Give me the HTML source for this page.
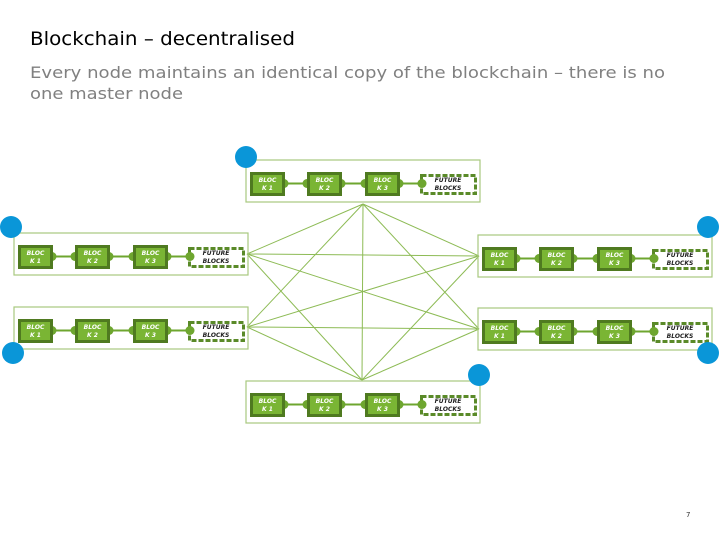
<!DOCTYPE html>
<html><head><meta charset="utf-8"><style>
html,body{margin:0;padding:0;background:#fff;}
svg{display:block;font-family:"DejaVu Sans","Liberation Sans",sans-serif;}
.b{fill:#7ab534;stroke:#4f7a20;stroke-width:3;}
.bt{fill:#fff;font-size:6px;font-style:italic;font-weight:bold;text-anchor:middle;}
.ft{fill:#222;font-size:6px;font-style:italic;font-weight:bold;text-anchor:middle;}
.fr{fill:none;stroke:#a8c97e;stroke-width:1.2;}
.c{fill:#6ea62f;}
.l{stroke:#6ea62f;stroke-width:2;}
.fb{fill:#fff;stroke:#5a8a28;stroke-width:3;stroke-dasharray:5,2;}
.m{stroke:#8dbb55;stroke-width:1;}
.dot{fill:#0a96d8;}
</style></head><body>
<svg width="720" height="540" viewBox="0 0 720 540">
<defs>
<g id="grp">
<rect class="fr" x="0" y="0" width="234" height="42"/>
<line class="l" x1="38" y1="23.5" x2="180" y2="23.5"/>
<circle class="c" cx="38" cy="23.5" r="4.5"/><circle class="c" cx="61" cy="23.5" r="4.5"/>
<circle class="c" cx="95" cy="23.5" r="4.5"/><circle class="c" cx="119" cy="23.5" r="4.5"/>
<circle class="c" cx="153" cy="23.5" r="4.5"/><circle class="c" cx="176" cy="23.5" r="4.5"/>
<rect class="b" x="5.5" y="13.5" width="32" height="21"/>
<rect class="b" x="62.5" y="13.5" width="32" height="21"/>
<rect class="b" x="120.5" y="13.5" width="32" height="21"/>
<rect class="fb" x="175.5" y="15.5" width="54" height="18"/>
<circle class="c" cx="176" cy="23.5" r="4.5"/>
</g>
</defs>
<text x="30" y="45" font-size="19" fill="#000" textLength="265" lengthAdjust="spacingAndGlyphs">Blockchain – decentralised</text>
<text x="30" y="78" font-size="16" fill="#808080" textLength="635" lengthAdjust="spacingAndGlyphs">Every node maintains an identical copy of the blockchain – there is no</text>
<text x="30" y="99" font-size="16" fill="#808080" textLength="153" lengthAdjust="spacingAndGlyphs">one master node</text>

<!-- mesh -->
<g class="m">
<line x1="363" y1="204" x2="247" y2="254"/><line x1="363" y1="204" x2="247" y2="327"/>
<line x1="363" y1="204" x2="479" y2="256"/><line x1="363" y1="204" x2="479" y2="329"/>
<line x1="363" y1="204" x2="362" y2="380"/>
<line x1="247" y1="254" x2="479" y2="256"/><line x1="247" y1="254" x2="479" y2="329"/>
<line x1="247" y1="254" x2="362" y2="380"/>
<line x1="247" y1="327" x2="479" y2="256"/><line x1="247" y1="327" x2="479" y2="329"/>
<line x1="247" y1="327" x2="362" y2="380"/>
<line x1="479" y1="256" x2="362" y2="380"/><line x1="479" y1="329" x2="362" y2="380"/>
</g>

<use href="#grp" x="246" y="160"/>
<use href="#grp" x="14" y="233"/>
<use href="#grp" x="14" y="307"/>
<use href="#grp" x="478" y="235"/>
<use href="#grp" x="478" y="308"/>
<use href="#grp" x="246" y="381"/>

<g id="labels">
<!-- top -->
<text class="bt" x="267.5" y="182">BLOC</text><text class="bt" x="267.5" y="190">K 1</text>
<text class="bt" x="324.5" y="182">BLOC</text><text class="bt" x="324.5" y="190">K 2</text>
<text class="bt" x="382.5" y="182">BLOC</text><text class="bt" x="382.5" y="190">K 3</text>
<text class="ft" x="448" y="182">FUTURE</text><text class="ft" x="448" y="190">BLOCKS</text>
<!-- left1 -->
<text class="bt" x="35.5" y="255">BLOC</text><text class="bt" x="35.5" y="263">K 1</text>
<text class="bt" x="92.5" y="255">BLOC</text><text class="bt" x="92.5" y="263">K 2</text>
<text class="bt" x="150.5" y="255">BLOC</text><text class="bt" x="150.5" y="263">K 3</text>
<text class="ft" x="216" y="255">FUTURE</text><text class="ft" x="216" y="263">BLOCKS</text>
<!-- left2 -->
<text class="bt" x="35.5" y="329">BLOC</text><text class="bt" x="35.5" y="337">K 1</text>
<text class="bt" x="92.5" y="329">BLOC</text><text class="bt" x="92.5" y="337">K 2</text>
<text class="bt" x="150.5" y="329">BLOC</text><text class="bt" x="150.5" y="337">K 3</text>
<text class="ft" x="216" y="329">FUTURE</text><text class="ft" x="216" y="337">BLOCKS</text>
<!-- right1 -->
<text class="bt" x="499.5" y="257">BLOC</text><text class="bt" x="499.5" y="265">K 1</text>
<text class="bt" x="556.5" y="257">BLOC</text><text class="bt" x="556.5" y="265">K 2</text>
<text class="bt" x="614.5" y="257">BLOC</text><text class="bt" x="614.5" y="265">K 3</text>
<text class="ft" x="680" y="257">FUTURE</text><text class="ft" x="680" y="265">BLOCKS</text>
<!-- right2 -->
<text class="bt" x="499.5" y="330">BLOC</text><text class="bt" x="499.5" y="338">K 1</text>
<text class="bt" x="556.5" y="330">BLOC</text><text class="bt" x="556.5" y="338">K 2</text>
<text class="bt" x="614.5" y="330">BLOC</text><text class="bt" x="614.5" y="338">K 3</text>
<text class="ft" x="680" y="330">FUTURE</text><text class="ft" x="680" y="338">BLOCKS</text>
<!-- bottom -->
<text class="bt" x="267.5" y="403">BLOC</text><text class="bt" x="267.5" y="411">K 1</text>
<text class="bt" x="324.5" y="403">BLOC</text><text class="bt" x="324.5" y="411">K 2</text>
<text class="bt" x="382.5" y="403">BLOC</text><text class="bt" x="382.5" y="411">K 3</text>
<text class="ft" x="448" y="403">FUTURE</text><text class="ft" x="448" y="411">BLOCKS</text>
</g>

<circle class="dot" cx="246" cy="157" r="11"/>
<circle class="dot" cx="11" cy="227" r="11"/>
<circle class="dot" cx="708" cy="227" r="11"/>
<circle class="dot" cx="13" cy="353" r="11"/>
<circle class="dot" cx="708" cy="353" r="11"/>
<circle class="dot" cx="479" cy="375" r="11"/>

<text x="686" y="517" font-size="7" fill="#333">7</text>
</svg>
</body></html>
